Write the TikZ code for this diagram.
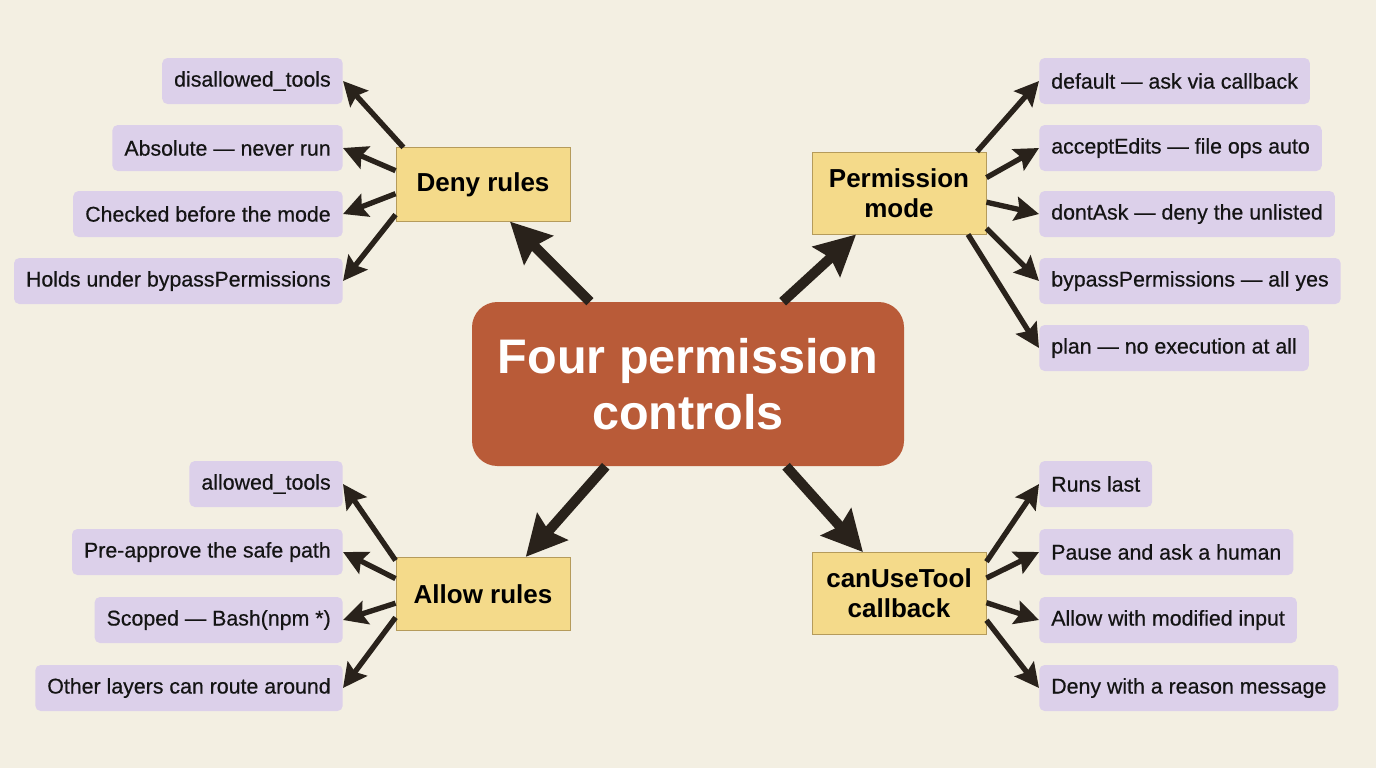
\documentclass[tikz,border=0pt]{standalone}
\usepackage{fontspec}
\setmainfont{Liberation Sans}
\newfontfamily\leaffont{Liberation Sans}[FakeBold=0.5]
\usepackage{xcolor}
\usepackage{tikz}
\usetikzlibrary{calc,positioning,arrows.meta}
\definecolor{paper}{HTML}{F3EFE2}
\definecolor{corefill}{HTML}{B95B38}
\definecolor{hubfill}{HTML}{F4DA8A}
\definecolor{hubline}{HTML}{B59B5B}
\definecolor{leaffill}{HTML}{DCD0EA}
\definecolor{arrowink}{HTML}{29221B}
\definecolor{leafink}{HTML}{141414}

\begin{document}
\begin{tikzpicture}[
    x=0.75pt, y=-0.75pt,
    core/.style={rectangle, rounded corners=19pt, minimum width=324pt, minimum height=123pt,
        fill=corefill, text=white, font=\fontsize{36.4}{42}\selectfont\bfseries, align=center},
    hub/.style={rectangle, minimum width=130.5pt, minimum height=55pt, fill=hubfill,
        draw=hubline, line width=0.7pt, text=black,
        font=\fontsize{19.5}{22.5}\selectfont\bfseries, align=center},
    leaf/.style={rectangle, rounded corners=4pt, fill=leaffill, minimum height=34.5pt,
        inner xsep=9pt, text=leafink, font=\leaffont\fontsize{16}{19}\selectfont},
    trunk/.style={-{Stealth[length=30pt, width=30pt, inset=4pt]}, arrowink, line width=7.5pt},
    twig/.style={-{Stealth[length=18pt, width=18pt, inset=3pt]}, arrowink, line width=4pt}
]
\fill[paper] (0,0) rectangle (1376,768);

\node[core] (core) at (688,384) {Four permission\\controls};

\node[hub] (deny) at (483,184.5) {Deny rules};
\node[hub, minimum height=61.5pt] (perm) at (899,193) {Permission\\mode};
\node[hub] (allow) at (483,594) {Allow rules};
\node[hub, minimum height=61.5pt] (canuse) at (899,593.5) {canUseTool\\callback};

% deny rules leaves
\node[leaf, anchor=east] (dtools) at (343,81) {disallowed\_tools};
\node[leaf, anchor=east] (absol) at (343,148) {Absolute — never run};
\node[leaf, anchor=east] (before) at (343,214) {Checked before the mode};
\node[leaf, anchor=east] (holds) at (343,281) {Holds under bypassPermissions};

% permission mode leaves
\node[leaf, anchor=west] (mdefault) at (1039,81) {default — ask via callback};
\node[leaf, anchor=west] (maccept) at (1039,148) {acceptEdits — file ops auto};
\node[leaf, anchor=west] (mdont) at (1039,214) {dontAsk — deny the unlisted};
\node[leaf, anchor=west] (mbypass) at (1039,281) {bypassPermissions — all yes};
\node[leaf, anchor=west] (mplan) at (1039,348) {plan — no execution at all};

% allow rules leaves
\node[leaf, anchor=east] (atools) at (343,484) {allowed\_tools};
\node[leaf, anchor=east] (preapp) at (343,552) {Pre-approve the safe path};
\node[leaf, anchor=east] (scoped) at (343,620) {Scoped — Bash(npm *)};
\node[leaf, anchor=east] (route) at (343,688) {Other layers can route around};

% callback leaves
\node[leaf, anchor=west] (runs) at (1039,484) {Runs last};
\node[leaf, anchor=west] (pause) at (1039,552) {Pause and ask a human};
\node[leaf, anchor=west] (modin) at (1039,620) {Allow with modified input};
\node[leaf, anchor=west] (reason) at (1039,688) {Deny with a reason message};

% center to the four controls
\draw[trunk] (core.140) -- (deny.-54);
\draw[trunk] (core.41) -- (perm.224);
\draw[trunk] (core.225) -- (allow.41);
\draw[trunk] (core.-40) -- (canuse.131);

% controls to leaves
\draw[twig] (deny.155) -- (dtools.east);
\draw[twig] (deny.171) -- (absol.east);
\draw[twig] (deny.186) -- (before.east);
\draw[twig] (deny.199) -- (holds.east);

\draw[twig] (perm.28) -- (mdefault.west);
\draw[twig] (perm.10) -- (maccept.west);
\draw[twig] (perm.-6) -- (mdont.west);
\draw[twig] (perm.-22) -- (mbypass.west);
\draw[twig] (perm.-31) -- (mplan.west);

\draw[twig] (allow.159) -- (atools.east);
\draw[twig] (allow.170) -- (preapp.east);
\draw[twig] (allow.186) -- (scoped.east);
\draw[twig] (allow.195) -- (route.east);

\draw[twig] (canuse.20) -- (runs.west);
\draw[twig] (canuse.10) -- (pause.west);
\draw[twig] (canuse.-6) -- (modin.west);
\draw[twig] (canuse.-17) -- (reason.west);
\end{tikzpicture}
\end{document}
